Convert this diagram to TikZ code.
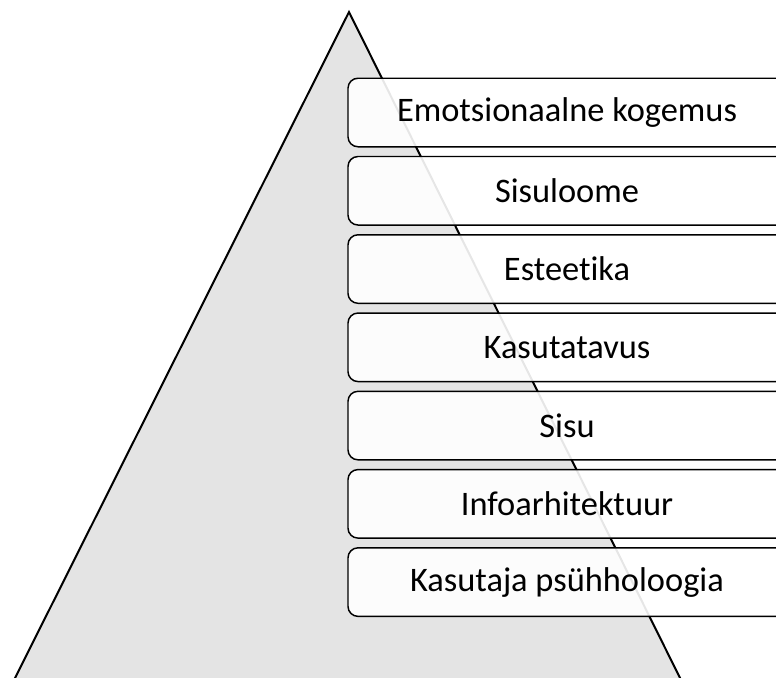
\documentclass[tikz,border=0pt]{standalone}
\usepackage{fontspec}
\setmainfont{Carlito}[Ligatures={NoCommon,NoDiscretionary}]
\usepackage{xcolor}
\usepackage{tikz}
\usetikzlibrary{positioning}
\definecolor{pyrgray}{RGB}{228,228,228}
\tikzset{
  pyr/.style  = {draw=black, line width=1.5pt, fill=pyrgray, line join=miter},
  lvl/.style  = {rectangle, rounded corners=7.5pt, draw=black, line width=1.1pt,
                 fill=white, fill opacity=0.9, text opacity=1,
                 minimum width=328.5pt, minimum height=51.4pt,
                 font=\fontsize{25.8}{30}\selectfont, inner sep=2pt},
}
\begin{document}
\begin{tikzpicture}[x=0.75pt,y=-0.75pt,node distance=6.2pt]

  \useasboundingbox (0,0) rectangle (776,678);

  % pyramid behind the levels
  \draw[pyr] (349,12) -- (686,690) -- (9,690) -- cycle;

  \node[lvl] at (567,112.5) (emo) {Emotsionaalne kogemus};
  \node[lvl, below=of emo] (sloome) {Sisuloome};
  \node[lvl, below=of sloome] (est) {Esteetika};
  \node[lvl, below=of est] (kas) {Kasutatavus};
  \node[lvl, below=of kas] (sisu) {Sisu};
  \node[lvl, below=of sisu] (info) {Infoarhitektuur};
  \node[lvl, below=of info] (psy) {Kasutaja psühholoogia};

\end{tikzpicture}
\end{document}
